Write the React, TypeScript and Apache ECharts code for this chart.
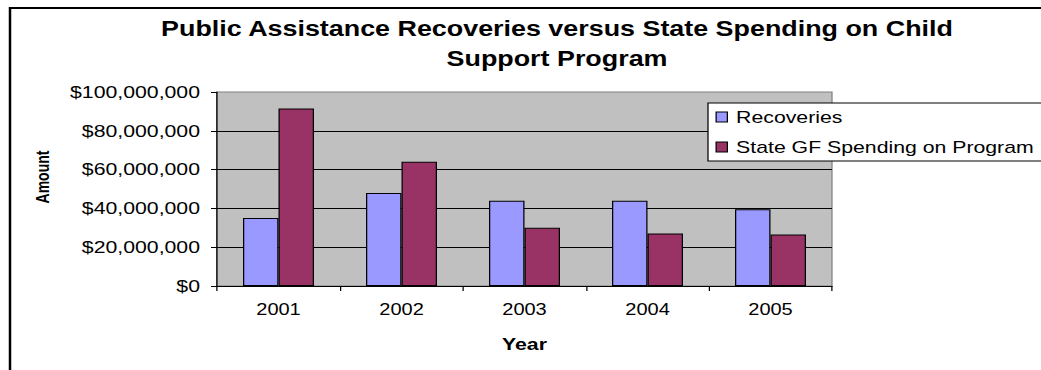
import React, { useEffect, useRef } from "react";
import * as echarts from "echarts";

const years = ["2001", "2002", "2003", "2004", "2005"];
const recoveries = [35000000, 48000000, 44000000, 44000000, 39500000];
const stateGF = [91500000, 64000000, 30000000, 27000000, 26500000];
const seriesNames = ["Recoveries", "State GF Spending on Program"];
const titleLines = [
  "Public Assistance Recoveries versus State Spending on Child",
  "Support Program",
];

const SX = 1.25; // horizontal stretch of the original picture
const FULL_W = 1041;
const H = 370;
const W = 900; // chart drawn wider than the visible page; the wrapper clips it
const FONT = '"Liberation Sans", Arial, sans-serif';

export default function App() {
  const ref = useRef<HTMLDivElement>(null);
  useEffect(() => {
    if (!ref.current) return;
    const chart = echarts.init(ref.current, null, { renderer: "svg" });
    chart.setOption({
      animation: false,
      backgroundColor: "#ffffff",
      textStyle: { fontFamily: FONT },
      graphic: [
        {
          type: "rect",
          shape: { x: 8, y: 8, width: 2000, height: 1000 },
          style: { fill: "none", stroke: "#000", lineWidth: 2 },
          z: 0,
        },
        {
          type: "rect",
          shape: { x: 566.4, y: 103, width: 600, height: 58 },
          style: { fill: "#ffffff", stroke: "#000", lineWidth: 1 },
          z: 3,
        },
        {
          type: "text",
          x: 445.6,
          y: 28,
          style: {
            text: titleLines[0],
            font: `bold 21.5px ${FONT}`,
            fill: "#000",
            textAlign: "center",
            textVerticalAlign: "middle",
          },
        },
        {
          type: "text",
          x: 445.6,
          y: 58.5,
          style: {
            text: titleLines[1],
            font: `bold 21.5px ${FONT}`,
            fill: "#000",
            textAlign: "center",
            textVerticalAlign: "middle",
          },
        },
        {
          type: "text",
          x: 34.4,
          y: 177,
          rotation: Math.PI / 2,
          style: {
            text: "Amount",
            font: `bold 14px ${FONT}`,
            fill: "#000",
            textAlign: "center",
            textVerticalAlign: "middle",
          },
        },
      ],
      legend: {
        orient: "vertical",
        left: 566.4,
        top: 103,
        padding: [4, 0, 4, 6],
        itemGap: 10,
        itemWidth: 9,
        itemHeight: 10,
        icon: "rect",
        z: 5,
        itemStyle: { borderColor: "#000", borderWidth: 1 },
        textStyle: {
          fontFamily: FONT,
          fontSize: 17,
          color: "#000",
          lineHeight: 20,
          padding: [0, 0, 0, 2],
        },
        data: seriesNames,
      },
      grid: {
        left: 173.6,
        right: W - 665.6,
        top: 92,
        bottom: H - 286,
        show: true,
        backgroundColor: "#C0C0C0",
        borderColor: "#808080",
        borderWidth: 1,
        containLabel: false,
      },
      xAxis: {
        type: "category",
        data: years,
        name: "Year",
        nameLocation: "middle",
        nameGap: 49.5,
        nameTextStyle: {
          fontFamily: FONT,
          fontWeight: "bold",
          fontSize: 17,
          color: "#000",
        },
        axisLine: { show: true, lineStyle: { color: "#000", width: 1 } },
        axisTick: { show: true, length: 5, lineStyle: { color: "#000" } },
        axisLabel: {
          fontFamily: FONT,
          fontSize: 16,
          color: "#000",
          margin: 16,
        },
      },
      yAxis: {
        type: "value",
        min: 0,
        max: 100000000,
        interval: 20000000,
        axisLine: { show: true, lineStyle: { color: "#000", width: 1 } },
        axisTick: { show: true, length: 4.8, lineStyle: { color: "#000" } },
        axisLabel: {
          fontFamily: FONT,
          fontSize: 17,
          color: "#000",
          margin: 13.6,
          formatter: (v: number) => "$" + v.toLocaleString("en-US"),
        },
        splitLine: {
          show: true,
          showMaxLine: false,
          lineStyle: { color: "#000", width: 1 },
        },
      },
      series: [
        {
          name: seriesNames[0],
          type: "bar",
          data: recoveries,
          barWidth: 28.4,
          barGap: "0%",
          itemStyle: { color: "#9999FF", borderColor: "#000", borderWidth: 1 },
        },
        {
          name: seriesNames[1],
          type: "bar",
          data: stateGF,
          barWidth: 28.4,
          barGap: "0%",
          itemStyle: { color: "#993366", borderColor: "#000", borderWidth: 1 },
        },
      ],
    });
    return () => chart.dispose();
  }, []);

  return (
    <div
      style={{
        position: "fixed",
        left: 0,
        top: 0,
        width: FULL_W,
        height: H,
        overflow: "hidden",
        background: "#fff",
      }}
    >
      <div
        ref={ref}
        style={{
          width: W,
          height: H,
          transform: `scaleX(${SX})`,
          transformOrigin: "0 0",
        }}
      />
    </div>
  );
}
